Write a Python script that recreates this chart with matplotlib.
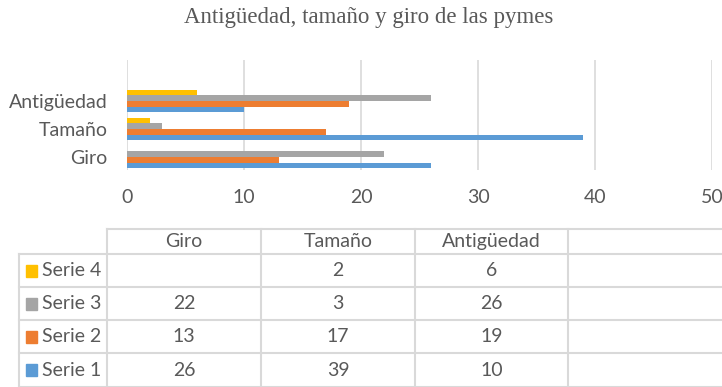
import numpy as np
import matplotlib
matplotlib.use("Agg")
import matplotlib.pyplot as plt

categories = ["Giro", "Tamaño", "Antigüedad"]
series_names = ["Serie 1", "Serie 2", "Serie 3", "Serie 4"]
serie1 = [26, 39, 10]
serie2 = [13, 17, 19]
serie3 = [22, 3, 26]
serie4 = [None, 2, 6]
colors = ["#5B9BD5", "#ED7D31", "#A5A5A5", "#FFC000"]
x_ticks = [0, 10, 20, 30, 40, 50]

series = [serie1, serie2, serie3, serie4]
txt = "#595959"
grid = "#D9D9D9"
font = "Lato"
fs = 14

W, H = 722, 387
fig = plt.figure(figsize=(W / 100, H / 100), dpi=100)

# bar chart
ax = fig.add_axes([127 / W, 1 - 170 / H, (712 - 127) / W, 110 / H])
y = np.arange(len(categories))
bh = 0.2
for i, (vals, c) in enumerate(zip(series, colors)):
    v = [np.nan if x is None else x for x in vals]
    ax.barh(y + (i - 1.5) * bh, v, height=bh, color=c, zorder=3)
ax.set_xlim(0, 50)
ax.set_ylim(-0.46, 3.46)
ax.set_xticks(x_ticks)
ax.set_yticks(y)
ax.set_yticklabels(categories)
ax.xaxis.grid(True, color=grid, linewidth=1.2, zorder=0)
for s in ax.spines.values():
    s.set_visible(False)
ax.tick_params(length=0, colors=txt, labelsize=fs, labelfontfamily=font)
ax.tick_params(axis="x", pad=14)
ax.tick_params(axis="y", pad=14)

fig.text(369 / W, 1 - 18 / H, "Antigüedad, tamaño y giro de las pymes",
         ha="center", va="center", family="Liberation Serif", fontsize=16.5,
         color=txt)

# data table below the chart, drawn in pixel coordinates
tb = fig.add_axes([0, 0, 1, 1])
tb.set_xlim(0, W)
tb.set_ylim(H, 0)
tb.axis("off")
col_x = [107, 261, 415, 568, 722]
row_y = [229, 254, 287, 320, 353, 387]
lw = 1.5
# header row borders
tb.plot([col_x[0], W], [row_y[0], row_y[0]], color=grid, lw=lw)
for cx in col_x[:-1]:
    tb.plot([cx, cx], [row_y[0], H], color=grid, lw=lw)
tb.plot([19, 19], [row_y[1], H], color=grid, lw=lw)
for ry in row_y[1:]:
    tb.plot([19, W], [ry, ry], color=grid, lw=lw)

for j, cat in enumerate(categories):
    tb.text((col_x[j] + col_x[j + 1]) / 2, (row_y[0] + row_y[1]) / 2, cat,
            ha="center", va="center", color=txt, fontsize=fs, family=font)

# series rows, top row is the last series
for r, k in enumerate(range(len(series) - 1, -1, -1)):
    yc = (row_y[r + 1] + row_y[r + 2]) / 2
    tb.add_patch(plt.Rectangle((26, yc - 6), 11, 12, color=colors[k]))
    tb.text(42, yc, series_names[k], ha="left", va="center", color=txt,
            fontsize=fs, family=font)
    for j, v in enumerate(series[k]):
        if v is None:
            continue
        tb.text((col_x[j] + col_x[j + 1]) / 2, yc, str(v), ha="center",
                va="center", color=txt, fontsize=fs, family=font)

fig.savefig("out.png", dpi=100)
